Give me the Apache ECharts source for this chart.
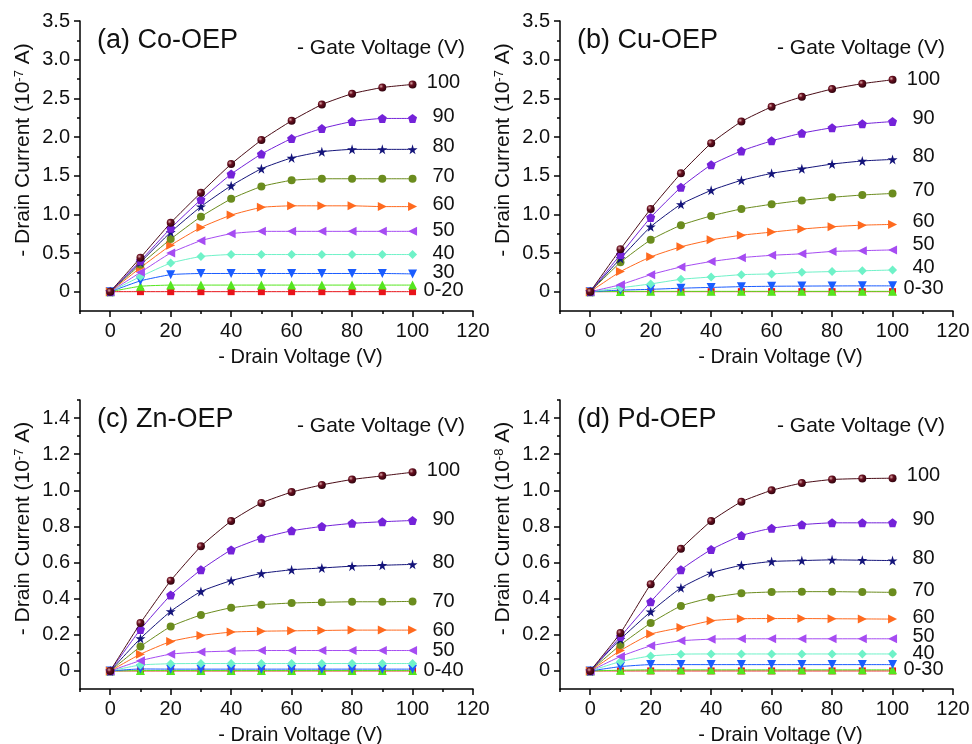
<!DOCTYPE html>
<html>
<head>
<meta charset="utf-8">
<script src="https://cdn.jsdelivr.net/npm/echarts@6/dist/echarts.min.js"></script>
<style>
  html, body { margin: 0; background: #fff; }
  #chart { width: 972px; height: 744px; }
</style>
</head>
<body>
<div id="chart"></div>
<script>
// drain voltage points (x) shared by every curve
const drainVoltage = [0, 10, 20, 30, 40, 50, 60, 70, 80, 90, 100];

// curves from low gate voltage to high: 0, 20, 30, 40, 50, 60, 70, 80, 90, 100
const coOEP = [
  [0, 0, 0, 0, 0, 0, 0, 0, 0, 0, 0],
  [0, 0.07, 0.085, 0.085, 0.085, 0.085, 0.085, 0.085, 0.085, 0.085, 0.085],
  [0, 0.14, 0.22, 0.235, 0.235, 0.235, 0.235, 0.235, 0.235, 0.235, 0.23],
  [0, 0.195, 0.37, 0.455, 0.48, 0.48, 0.48, 0.48, 0.48, 0.48, 0.48],
  [0, 0.25, 0.50, 0.66, 0.75, 0.78, 0.78, 0.78, 0.78, 0.78, 0.78],
  [0, 0.31, 0.60, 0.83, 0.99, 1.09, 1.11, 1.11, 1.11, 1.10, 1.10],
  [0, 0.35, 0.68, 0.97, 1.20, 1.36, 1.44, 1.46, 1.46, 1.46, 1.46],
  [0, 0.38, 0.77, 1.10, 1.37, 1.59, 1.73, 1.81, 1.84, 1.84, 1.84],
  [0, 0.40, 0.82, 1.19, 1.52, 1.78, 1.98, 2.11, 2.20, 2.24, 2.24],
  [0, 0.44, 0.89, 1.28, 1.65, 1.96, 2.21, 2.42, 2.56, 2.64, 2.68]
];
const cuOEP = [
  [0, 0, 0, 0, 0, 0, 0, 0, 0, 0, 0],
  [0, 0.003, 0.004, 0.004, 0.004, 0.004, 0.004, 0.004, 0.004, 0.004, 0.004],
  [0, 0.02, 0.03, 0.045, 0.055, 0.065, 0.07, 0.072, 0.074, 0.075, 0.075],
  [0, 0.05, 0.10, 0.16, 0.19, 0.22, 0.23, 0.25, 0.26, 0.27, 0.28],
  [0, 0.09, 0.22, 0.32, 0.39, 0.44, 0.47, 0.49, 0.52, 0.53, 0.54],
  [0, 0.26, 0.45, 0.58, 0.67, 0.73, 0.77, 0.81, 0.84, 0.86, 0.87],
  [0, 0.38, 0.67, 0.86, 0.98, 1.07, 1.13, 1.18, 1.22, 1.25, 1.27],
  [0, 0.43, 0.84, 1.13, 1.31, 1.44, 1.53, 1.59, 1.65, 1.69, 1.71],
  [0, 0.48, 0.96, 1.35, 1.64, 1.82, 1.95, 2.05, 2.12, 2.17, 2.20],
  [0, 0.55, 1.07, 1.53, 1.92, 2.20, 2.39, 2.52, 2.62, 2.69, 2.74]
];
const znOEP = [
  [0, 0, 0, 0, 0, 0, 0, 0, 0, 0, 0],
  [0, 0.002, 0.002, 0.002, 0.002, 0.002, 0.002, 0.002, 0.002, 0.002, 0.002],
  [0, 0.011, 0.01, 0.01, 0.01, 0.01, 0.01, 0.01, 0.01, 0.01, 0.01],
  [0, 0.033, 0.04, 0.041, 0.041, 0.041, 0.041, 0.041, 0.041, 0.041, 0.041],
  [0, 0.057, 0.093, 0.105, 0.11, 0.113, 0.113, 0.113, 0.113, 0.113, 0.113],
  [0, 0.093, 0.163, 0.196, 0.215, 0.22, 0.222, 0.224, 0.226, 0.226, 0.226],
  [0, 0.135, 0.246, 0.31, 0.35, 0.367, 0.376, 0.38, 0.383, 0.383, 0.385],
  [0, 0.18, 0.33, 0.44, 0.50, 0.54, 0.56, 0.57, 0.58, 0.585, 0.59],
  [0, 0.23, 0.42, 0.56, 0.67, 0.735, 0.776, 0.80, 0.817, 0.826, 0.833],
  [0, 0.265, 0.50, 0.69, 0.83, 0.93, 0.99, 1.03, 1.06, 1.08, 1.10]
];
const pdOEP = [
  [0, 0, 0, 0, 0, 0, 0, 0, 0, 0, 0],
  [0, 0.004, 0.006, 0.006, 0.006, 0.006, 0.006, 0.006, 0.006, 0.006, 0.006],
  [0, 0.024, 0.035, 0.035, 0.035, 0.035, 0.035, 0.035, 0.035, 0.035, 0.035],
  [0, 0.052, 0.083, 0.093, 0.094, 0.094, 0.094, 0.094, 0.094, 0.094, 0.094],
  [0, 0.08, 0.139, 0.167, 0.176, 0.178, 0.178, 0.178, 0.178, 0.178, 0.178],
  [0, 0.113, 0.204, 0.24, 0.278, 0.289, 0.29, 0.29, 0.289, 0.288, 0.287],
  [0, 0.144, 0.265, 0.36, 0.405, 0.43, 0.437, 0.439, 0.439, 0.437, 0.435],
  [0, 0.176, 0.328, 0.46, 0.543, 0.585, 0.606, 0.611, 0.615, 0.613, 0.611],
  [0, 0.19, 0.383, 0.56, 0.672, 0.75, 0.79, 0.81, 0.82, 0.82, 0.82],
  [0, 0.21, 0.48, 0.676, 0.83, 0.937, 1.00, 1.04, 1.06, 1.065, 1.067]
];

// gate voltage labels at the right end of each curve
const coLabels = ['0-20', '', '30', '40', '50', '60', '70', '80', '90', '100'];
const cuLabels = ['', '', '0-30', '40', '50', '60', '70', '80', '90', '100'];
const znLabels = ['', '', '0-40', '', '50', '60', '70', '80', '90', '100'];
const pdLabels = ['', '0-30', '', '40', '50', '60', '70', '80', '90', '100'];

const panelTitles = ['(a) Co-OEP', '(b) Cu-OEP', '(c) Zn-OEP', '(d) Pd-OEP'];
const currentExponents = ['-7', '-7', '-7', '-8'];

// tick values
const xTicks = [0, 20, 40, 60, 80, 100, 120];
const xMinorTicks = [-10, 10, 30, 50, 70, 90, 110];
const yTicksTop = [0, 0.5, 1.0, 1.5, 2.0, 2.5, 3.0, 3.5];
const yMinorTop = [0.25, 0.75, 1.25, 1.75, 2.25, 2.75, 3.25];
const yTicksBottom = [0, 0.2, 0.4, 0.6, 0.8, 1.0, 1.2, 1.4];
const yMinorBottom = [0.1, 0.3, 0.5, 0.7, 0.9, 1.1, 1.3, 1.5];

// ---- styles ----
const FONT = 'Liberation Sans, Arial, sans-serif';
const STAR = 'path://M50,0 L61,35 L98,35 L68,57 L79,91 L50,70 L21,91 L32,57 L2,35 L39,35 Z';
const PENTAGON = 'path://M50,0 L100,38 L81,100 L19,100 L0,38 Z';
const ball = {
  type: 'radial', x: 0.35, y: 0.35, r: 0.75,
  colorStops: [{ offset: 0, color: '#d8a8a8' }, { offset: 0.35, color: '#6a1020' }, { offset: 1, color: '#25000a' }]
};
const curveColors = ['#e8141a', '#55e61e', '#1a5cff', '#6ff2c8', '#a64cf2', '#ff6a1f', '#6b8c1e', '#14147a', '#7422d9', '#4a0c16'];
const curveSymbols = ['rect', 'triangle', 'triangle', 'diamond', 'triangle', 'triangle', 'circle', STAR, PENTAGON, 'circle'];
const curveRotate = [0, 0, 180, 0, 90, -90, 0, 0, 0, 0];
const curveSizes = [7, 9, 9, 9, 9, 9, 8, 10, 9, 8];

const grids = [
  { left: 80, top: 21, width: 393, height: 290 },
  { left: 560, top: 21, width: 393, height: 290 },
  { left: 80, top: 400, width: 393, height: 289 },
  { left: 560, top: 400, width: 393, height: 289 }
];
const labelShift = [
  [-1, 0, -1, -1, -1, -2, -2, -3, -2, -2],
  [0, 0, 3, -3, -5, -3, -3, -3, -3, 0],
  [0, 0, 1, 0, 0, 0, 0, -2, -1, -2],
  [0, 0, 0, 0, -2, -2, -2, -2, -3, -3]
];

const fmtY = v => (v === 0 ? '0' : v.toFixed(1));

function buildSeries(p, rows, labels) {
  return rows.map((row, k) => ({
    type: 'line',
    xAxisIndex: p * 2,
    yAxisIndex: p * 2,
    smooth: 0.15,
    symbol: curveSymbols[k],
    symbolSize: curveSizes[k],
    symbolRotate: curveRotate[k],
    itemStyle: { color: k === 9 ? ball : curveColors[k] },
    lineStyle: { color: curveColors[k], width: 1 },
    z: 2 + k,
    data: row.map((v, j) => {
      const item = { value: [drainVoltage[j], v] };
      if (j === row.length - 1 && labels[k]) {
        item.label = {
          show: true, formatter: labels[k], position: 'inside',
          offset: [31, labelShift[p][k]],
          color: '#111', fontSize: 20, fontFamily: FONT
        };
      }
      return item;
    })
  }));
}

const xAxes = [];
const yAxes = [];
grids.forEach((g, p) => {
  const top = p < 2;
  xAxes.push({
    type: 'value', gridIndex: p, position: 'bottom', min: -10, max: 120, interval: 10,
    name: '- Drain Voltage (V)', nameLocation: 'middle', nameGap: 36,
    nameTextStyle: { fontSize: 20, color: '#111', fontFamily: FONT, padding: [0, 0, 0, 48] },
    axisLine: { onZero: false, lineStyle: { color: '#000', width: 1.5 } },
    axisTick: { length: 6, customValues: xTicks, lineStyle: { color: '#000', width: 1.5 } },
    axisLabel: { customValues: xTicks, margin: 10, fontSize: 20, color: '#111', fontFamily: FONT },
    splitLine: { show: false }
  });
  xAxes.push({
    type: 'value', gridIndex: p, position: 'bottom', min: -10, max: 120, interval: 10,
    axisLine: { show: false, onZero: false },
    axisTick: { length: 3, customValues: xMinorTicks, lineStyle: { color: '#000', width: 1.5 } },
    axisLabel: { show: false },
    splitLine: { show: false }
  });
  const ymin = top ? -0.25 : -0.1;
  const ymax = top ? 3.5 : 1.5;
  const step = top ? 0.25 : 0.1;
  yAxes.push({
    type: 'value', gridIndex: p, position: 'left', min: ymin, max: ymax, interval: step,
    name: '- Drain Current (10{sup|' + currentExponents[p] + '} A)',
    nameLocation: 'middle', nameGap: 46,
    nameTextStyle: {
      fontSize: 21, color: '#111', fontFamily: FONT, padding: [0, 0, 0, 32],
      rich: { sup: { fontSize: 13, color: '#111', fontFamily: FONT, verticalAlign: 'top', padding: [0, 0, 8, 0] } }
    },
    axisLine: { onZero: false, lineStyle: { color: '#000', width: 1.5 } },
    axisTick: { length: 6, customValues: top ? yTicksTop : yTicksBottom, lineStyle: { color: '#000', width: 1.5 } },
    axisLabel: { customValues: top ? yTicksTop : yTicksBottom, formatter: fmtY, margin: 10, fontSize: 20, color: '#111', fontFamily: FONT },
    splitLine: { show: false }
  });
  yAxes.push({
    type: 'value', gridIndex: p, position: 'left', min: ymin, max: ymax, interval: step,
    axisLine: { show: false, onZero: false },
    axisTick: { length: 3, customValues: top ? yMinorTop : yMinorBottom, lineStyle: { color: '#000', width: 1.5 } },
    axisLabel: { show: false },
    splitLine: { show: false }
  });
});

const titles = [];
grids.forEach((g, p) => {
  titles.push({
    text: panelTitles[p], left: g.left + 17, top: p < 2 ? 27 : 406, padding: 0,
    textStyle: { fontSize: 27, fontWeight: 'normal', color: '#111', fontFamily: FONT }
  });
  titles.push({
    text: '- Gate Voltage (V)', left: g.left + 217, top: p < 2 ? 38 : 416, padding: 0,
    textStyle: { fontSize: 21, fontWeight: 'normal', color: '#111', fontFamily: FONT }
  });
});

const chart = echarts.init(document.getElementById('chart'));
chart.setOption({
  animation: false,
  backgroundColor: '#fff',
  title: titles,
  grid: grids.map(g => Object.assign({ outerBoundsMode: 'none' }, g)),
  xAxis: xAxes,
  yAxis: yAxes,
  series: [].concat(
    buildSeries(0, coOEP, coLabels),
    buildSeries(1, cuOEP, cuLabels),
    buildSeries(2, znOEP, znLabels),
    buildSeries(3, pdOEP, pdLabels)
  )
});
</script>
</body>
</html>
